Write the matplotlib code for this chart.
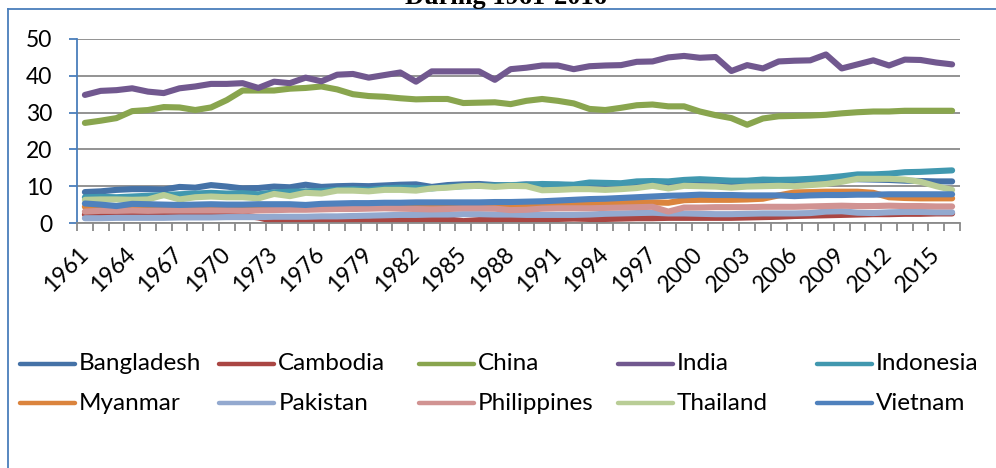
import numpy as np
import matplotlib
matplotlib.use('agg')
import matplotlib.pyplot as plt
from matplotlib.lines import Line2D

years = list(range(1961, 2017))
countries = ['Bangladesh', 'Cambodia', 'China', 'India', 'Indonesia',
             'Myanmar', 'Pakistan', 'Philippines', 'Thailand', 'Vietnam']

bangladesh = [8.4, 8.6, 9.0, 9.2, 9.2, 9.1, 9.8, 9.6, 10.3, 9.9,
              9.4, 9.5, 9.9, 9.7, 10.4, 9.8, 10.0, 10.1, 10.0, 10.2,
              10.4, 10.5, 9.8, 10.3, 10.5, 10.6, 10.3, 10.2, 10.5, 10.3,
              10.4, 10.2, 10.6, 10.4, 10.6, 10.7, 10.8, 10.6, 11.0, 11.1,
              11.0, 10.9, 11.0, 11.0, 11.2, 11.3, 11.5, 11.8, 12.0, 11.9,
              11.8, 11.7, 11.5, 11.4, 11.3, 11.3]
cambodia = [2.3, 2.3, 2.3, 2.4, 2.4, 2.4, 2.4, 2.3, 2.3, 2.3,
            2.1, 1.5, 0.5, 0.3, 0.3, 0.4, 0.5, 0.6, 0.5, 0.6,
            0.9, 1.0, 1.0, 1.0, 0.5, 0.8, 1.0, 1.0, 0.9, 1.1,
            1.1, 1.2, 1.1, 1.1, 1.2, 1.3, 1.3, 1.4, 1.4, 1.4,
            1.4, 1.4, 1.5, 1.6, 1.7, 1.9, 2.0, 2.1, 2.2, 2.3,
            2.4, 2.4, 2.5, 2.5, 2.6, 2.6]
china = [27.2, 27.8, 28.5, 30.4, 30.7, 31.5, 31.4, 30.7, 31.4, 33.4,
         36.0, 36.0, 36.0, 36.5, 36.7, 37.1, 36.3, 35.0, 34.5, 34.3,
         33.9, 33.6, 33.7, 33.7, 32.6, 32.7, 32.8, 32.3, 33.2, 33.7,
         33.2, 32.5, 31.0, 30.7, 31.3, 32.0, 32.2, 31.7, 31.7, 30.3,
         29.3, 28.5, 26.7, 28.4, 29.0, 29.1, 29.2, 29.4, 29.8, 30.1,
         30.3, 30.3, 30.5, 30.5, 30.5, 30.5]
india = [34.8, 35.9, 36.1, 36.6, 35.7, 35.3, 36.6, 37.1, 37.8, 37.8,
         38.0, 36.7, 38.4, 38.0, 39.5, 38.5, 40.3, 40.5, 39.5, 40.2,
         40.9, 38.4, 41.2, 41.2, 41.2, 41.2, 38.9, 41.8, 42.2, 42.8,
         42.8, 41.8, 42.6, 42.8, 42.9, 43.8, 43.9, 45.0, 45.4, 44.9,
         45.1, 41.3, 42.9, 42.0, 43.9, 44.1, 44.2, 45.8, 42.0, 43.1,
         44.2, 42.8, 44.4, 44.3, 43.6, 43.1]
indonesia = [7.0, 7.1, 7.0, 7.2, 7.4, 7.6, 7.8, 8.0, 8.2, 8.0,
             8.1, 7.8, 8.3, 8.5, 8.6, 8.7, 9.0, 9.2, 9.0, 9.4,
             9.6, 9.5, 9.4, 9.8, 10.0, 10.1, 10.2, 10.3, 10.4, 10.6,
             10.5, 10.4, 11.0, 10.9, 10.8, 11.3, 11.4, 11.3, 11.7, 11.9,
             11.7, 11.5, 11.5, 11.8, 11.7, 11.8, 12.0, 12.3, 12.7, 13.2,
             13.2, 13.4, 13.8, 13.9, 14.1, 14.3]
myanmar = [4.4, 4.3, 4.2, 4.3, 4.3, 4.2, 4.2, 4.3, 4.3, 4.2,
           4.2, 4.1, 4.2, 4.3, 4.3, 4.4, 4.5, 4.5, 4.6, 4.7,
           4.7, 4.8, 4.7, 4.7, 4.6, 4.6, 4.6, 4.7, 4.8, 4.9,
           5.0, 5.1, 5.3, 5.4, 5.5, 5.5, 5.6, 5.5, 6.2, 6.3,
           6.3, 6.3, 6.4, 6.6, 7.5, 8.3, 8.4, 8.5, 8.5, 8.5,
           8.2, 7.0, 6.8, 6.7, 6.7, 6.7]
pakistan = [1.3, 1.3, 1.4, 1.4, 1.4, 1.4, 1.5, 1.5, 1.5, 1.6,
            1.6, 1.6, 1.7, 1.7, 1.7, 1.8, 1.8, 1.9, 2.0, 2.1,
            2.2, 2.2, 2.3, 2.3, 2.4, 2.4, 2.3, 2.3, 2.2, 2.2,
            2.2, 2.2, 2.3, 2.5, 2.6, 2.7, 2.8, 2.6, 2.6, 2.5,
            2.4, 2.4, 2.5, 2.6, 2.6, 2.6, 2.7, 3.1, 3.2, 2.8,
            2.7, 2.9, 3.0, 3.0, 2.9, 2.9]
philippines = [3.1, 3.3, 3.3, 3.4, 3.3, 3.4, 3.4, 3.4, 3.4, 3.4,
               3.3, 3.4, 3.5, 3.6, 3.6, 3.7, 3.8, 3.8, 3.9, 4.0,
               3.9, 3.8, 3.7, 3.8, 4.0, 4.0, 3.9, 3.5, 3.6, 3.9,
               4.0, 4.0, 4.0, 4.1, 4.2, 4.3, 4.4, 3.1, 4.2, 4.2,
               4.3, 4.3, 4.3, 4.4, 4.4, 4.4, 4.5, 4.6, 4.7, 4.6,
               4.6, 4.7, 4.6, 4.6, 4.5, 4.5]
thailand = [6.3, 6.4, 6.4, 6.3, 6.4, 7.6, 6.4, 7.0, 7.2, 7.0,
            7.0, 6.7, 7.9, 7.3, 8.2, 8.0, 8.8, 8.8, 8.6, 9.0,
            9.0, 8.8, 9.4, 9.6, 10.0, 10.1, 9.8, 10.1, 10.0, 8.9,
            9.0, 9.2, 9.2, 9.0, 9.2, 9.5, 10.1, 9.4, 10.1, 10.0,
            9.9, 9.6, 9.9, 10.0, 10.1, 10.0, 10.3, 10.6, 11.2, 12.0,
            12.0, 12.0, 11.8, 11.2, 10.0, 9.0]
vietnam = [5.3, 5.0, 4.6, 5.2, 5.1, 5.0, 4.9, 5.0, 5.1, 5.0,
           5.0, 5.1, 5.1, 5.1, 4.9, 5.2, 5.3, 5.4, 5.4, 5.5,
           5.5, 5.6, 5.6, 5.6, 5.6, 5.6, 5.7, 5.7, 5.8, 5.9,
           6.1, 6.3, 6.5, 6.6, 6.8, 7.0, 7.2, 7.4, 7.5, 7.7,
           7.6, 7.6, 7.5, 7.5, 7.5, 7.3, 7.5, 7.6, 7.6, 7.7,
           7.7, 7.8, 7.8, 7.8, 7.8, 7.8]

series = [bangladesh, cambodia, china, india, indonesia,
          myanmar, pakistan, philippines, thailand, vietnam]
colors = ['#4572A7', '#AA4643', '#89A54E', '#71588F', '#4198AF',
          '#DB843D', '#93A9CF', '#D19392', '#B9CD96', '#4F81BD']

W, H = 996, 468
fig = plt.figure(figsize=(W / 100, H / 100), dpi=100)
ax = fig.add_axes([77 / W, 1 - 223 / H, (960 - 77) / W, (223 - 39) / H])

x = np.arange(len(years))
for vals, c, name in zip(series, colors, countries):
    ax.plot(x, vals, color=c, lw=4.4, solid_capstyle='round',
            solid_joinstyle='round', label=name)

ax.set_xlim(-0.5, len(years) - 0.5)
ax.set_ylim(0, 50)
ax.set_yticks(range(0, 51, 10))
ax.yaxis.grid(True, color='#8a8a8a', lw=1.3)
ax.set_axisbelow(True)

# category ticks between points, labels every 3 years
ax.set_xticks(np.arange(-0.5, len(years), 1), minor=True)
lab_idx = x[::3]
ax.set_xticks(lab_idx)
ax.set_xticklabels([str(years[i]) for i in lab_idx], rotation=45,
                   ha='right', va='center', rotation_mode='anchor')
ax.tick_params(axis='x', which='major', length=0, pad=20, labelsize=16.5)
ax.tick_params(axis='x', which='minor', length=6, width=1.3, color='#8a8a8a')
ax.tick_params(axis='y', length=6, width=1.3, color='#4A7EBB', pad=12,
               labelsize=16.5)
for t in ax.get_xticklabels() + ax.get_yticklabels():
    t.set_fontfamily('Lato')

for s in ['top', 'right']:
    ax.spines[s].set_visible(False)
ax.spines['left'].set_color('#4A7EBB')
ax.spines['left'].set_linewidth(1.3)
ax.spines['bottom'].set_color('#8a8a8a')
ax.spines['bottom'].set_linewidth(1.3)

# outer chart frame (only left and top visible in the crop)
fig.add_artist(Line2D([8 / W, 8 / W], [0, 1 - 9 / H], color='#4A7EBB', lw=1.3))
fig.add_artist(Line2D([8 / W, 1], [1 - 9 / H, 1 - 9 / H], color='#4A7EBB', lw=1.3))

fig.text(506 / W, 1 - 4 / H, 'During 1961-2016', ha='center', va='baseline',
         fontsize=19, fontweight='bold', family='Liberation Serif')

# legend, 5 columns x 2 rows with equal column widths
for i, (name, c) in enumerate(zip(countries, colors)):
    col, row = i % 5, i // 5
    x0 = 20 + col * 199.3
    yy = 1 - (364 + row * 39) / H
    fig.add_artist(Line2D([x0 / W, (x0 + 55) / W], [yy, yy], color=c, lw=3.2,
                          solid_capstyle='round'))
    fig.text((x0 + 59) / W, yy, name, ha='left', va='center', fontsize=17.5,
             family='Lato')

fig.savefig('out.png', dpi=100)
